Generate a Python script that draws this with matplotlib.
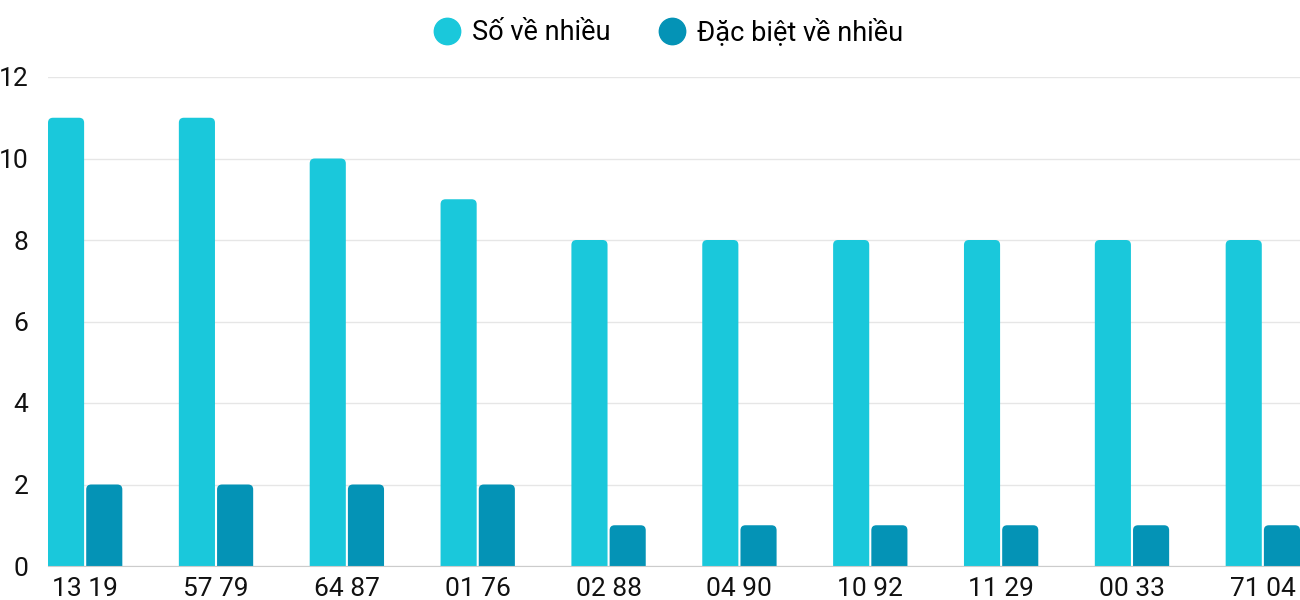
import matplotlib
matplotlib.use("Agg")
import matplotlib.pyplot as plt
from matplotlib.patches import FancyBboxPatch
from matplotlib.lines import Line2D
import numpy as np

categories = ["13 19", "57 79", "64 87", "01 76", "02 88", "04 90", "10 92", "11 29", "00 33", "71 04"]
so_ve_nhieu = [11, 11, 10, 9, 8, 8, 8, 8, 8, 8]
dac_biet_ve_nhieu = [2, 2, 2, 2, 1, 1, 1, 1, 1, 1]
series_names = ["Số về nhiều", "Đặc biệt về nhiều"]
yticks = [0, 2, 4, 6, 8, 10, 12]

c_light = "#1AC8DB"
c_dark = "#0493B6"

plt.rcParams['font.family'] = ['Roboto', 'DejaVu Sans']

fig = plt.figure(figsize=(13, 6), dpi=100)
ax = fig.add_axes([48/1300, 1-566/600, 1252/1300, (566-77)/600])

x = np.arange(len(categories))
w = 0.276
off = 0.146
b1 = ax.bar(x - off, so_ve_nhieu, w, color=c_light, zorder=3)
b2 = ax.bar(x + off, dac_biet_ve_nhieu, w, color=c_dark, zorder=3)

xlim = (-off - w/2, len(categories) - 1 + off + w/2)
ylim = (0, 12)
ax.set_xlim(*xlim)
ax.set_ylim(*ylim)

# rounded tops (bottom corners pushed below the axis and clipped)
px_x = (xlim[1] - xlim[0]) / 1252.0
px_y = (ylim[1] - ylim[0]) / 489.0
r = 5 * px_x
aspect = px_y / px_x
ext = 0.5
for bars, col in ((b1, c_light), (b2, c_dark)):
    for p in bars:
        bx, by = p.get_x(), p.get_y()
        bw, bh = p.get_width(), p.get_height()
        p.set_visible(False)
        rp = FancyBboxPatch((bx, by - ext), bw, bh + ext,
                            boxstyle=f"round,pad=0,rounding_size={r}",
                            mutation_aspect=aspect, facecolor=col,
                            edgecolor='none', zorder=3)
        ax.add_patch(rp)

ax.set_yticks(yticks)
ax.set_xticks(x)
ax.set_xticklabels(categories)
ax.tick_params(axis='both', length=0, labelsize=19, colors='#111111')
ax.tick_params(axis='y', pad=14)
ax.tick_params(axis='x', pad=8)
ax.grid(axis='y', color='#e6e6e6', linewidth=1, zorder=0)
for s in ['top', 'right', 'left']:
    ax.spines[s].set_visible(False)
ax.spines['bottom'].set_color('#cccccc')
ax.spines['bottom'].set_zorder(4)

handles = [Line2D([], [], marker='o', linestyle='none', markersize=19,
                  markerfacecolor=c, markeredgecolor=c) for c in (c_light, c_dark)]
fig.legend(handles, series_names, loc='upper center', bbox_to_anchor=(0.513, 1.01),
           ncol=2, frameon=False, fontsize=19.5, handletextpad=0.3,
           columnspacing=1.7, handlelength=1.2)

fig.savefig("out.png", dpi=100)
